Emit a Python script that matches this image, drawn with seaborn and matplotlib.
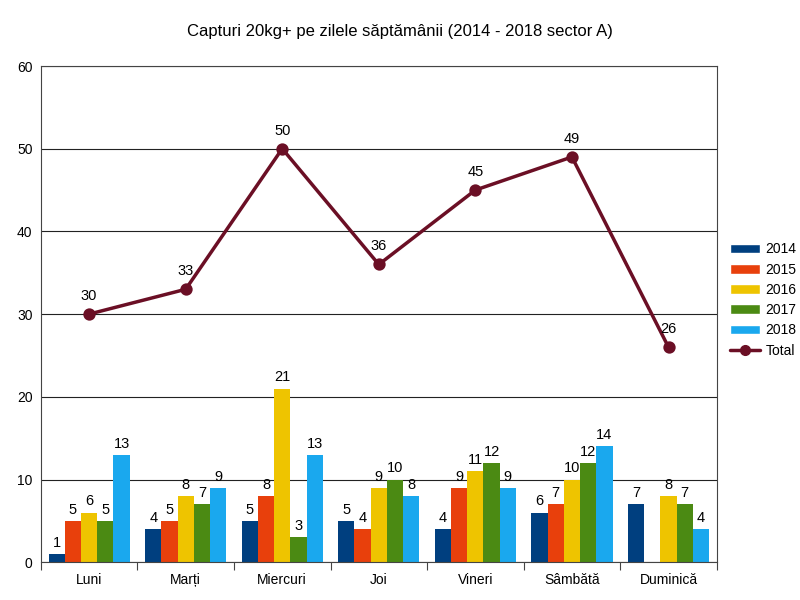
import numpy as np
import matplotlib
matplotlib.use("Agg")
import matplotlib.pyplot as plt
import seaborn as sns
import pandas as pd
from matplotlib.patches import Patch
from matplotlib.lines import Line2D

# data
days = ["Luni", "Marți", "Miercuri", "Joi", "Vineri", "Sâmbătă", "Duminică"]
years = ["2014", "2015", "2016", "2017", "2018"]
y2014 = [1, 4, 5, 5, 4, 6, 7]
y2015 = [5, 5, 8, 4, 9, 7, np.nan]
y2016 = [6, 8, 21, 9, 11, 10, 8]
y2017 = [5, 7, 3, 10, 12, 12, 7]
y2018 = [13, 9, 13, 8, 9, 14, 4]
total = [30, 33, 50, 36, 45, 49, 26]

colors = ["#003f7f", "#e8400c", "#eec400", "#4b8a13", "#1aa8ee"]
lineColor = "#6b0f25"

sns.set_theme(style="white")
plt.rcParams["font.family"] = ["Liberation Sans", "DejaVu Sans"]
plt.rcParams["text.color"] = "black"
plt.rcParams["xtick.color"] = "black"
plt.rcParams["ytick.color"] = "black"

# long form table for the grouped bars
rows = []
for year, vals in zip(years, [y2014, y2015, y2016, y2017, y2018]):
    for day, v in zip(days, vals):
        rows.append({"day": day, "year": year, "value": v})
df = pd.DataFrame(rows)

fig = plt.figure(figsize=(8, 6), dpi=100)
ax = fig.add_axes([0.051, 0.063, 0.845, 0.827])

sns.barplot(data=df, x="day", y="value", hue="year", order=days, hue_order=years,
            palette=colors, width=0.84, gap=0, saturation=1, legend=False,
            linewidth=0, ax=ax)

for cont in ax.containers:
    labels = ["" if np.isnan(b.get_height()) else "%d" % b.get_height() for b in cont]
    ax.bar_label(cont, labels=labels, padding=3, fontsize=10.5, color="black")

# total line on the same categorical axis
sns.pointplot(x=days, y=total, order=days, color=lineColor, markers="o",
              markersize=7, linewidth=2.5, ax=ax)
for i, t in enumerate(total):
    ax.annotate(str(t), (i, t), xytext=(0, 8), textcoords="offset points",
                ha="center", va="bottom", fontsize=10.5, color="black")

# axes
ax.set_ylim(0, 60)
ax.set_yticks(np.arange(0, 61, 10))
ax.set_xlim(-0.5, 6.5)
ax.grid(axis="y", color="#222222", linewidth=0.8)
ax.set_axisbelow(True)
ax.set_xlabel("")
ax.set_ylabel("")
for s in ax.spines.values():
    s.set_color("#444444")
    s.set_linewidth(0.8)
ax.tick_params(axis="y", labelsize=10, length=0, pad=6)
ax.tick_params(axis="x", labelsize=10, length=0, pad=8)

# category separators on x axis
ax.set_xticks(np.arange(-0.5, 7, 1), minor=True)
ax.tick_params(axis="x", which="minor", bottom=True, length=6, width=0.8,
               color="#444444", direction="out")

fig.suptitle("Capturi 20kg+ pe zilele săptămânii (2014 - 2018 sector A)",
             fontsize=12, y=0.96)

handles = [Patch(facecolor=c, label=y) for c, y in zip(colors, years)]
handles.append(Line2D([0], [0], color=lineColor, linewidth=2.5, marker="o",
                      markersize=7, label="Total"))
fig.legend(handles=handles, loc="center left", bbox_to_anchor=(0.905, 0.5),
           frameon=False, fontsize=10, handlelength=2.2, handleheight=0.7,
           labelspacing=0.45, handletextpad=0.4, borderaxespad=0)

fig.savefig("out.png", dpi=100)
